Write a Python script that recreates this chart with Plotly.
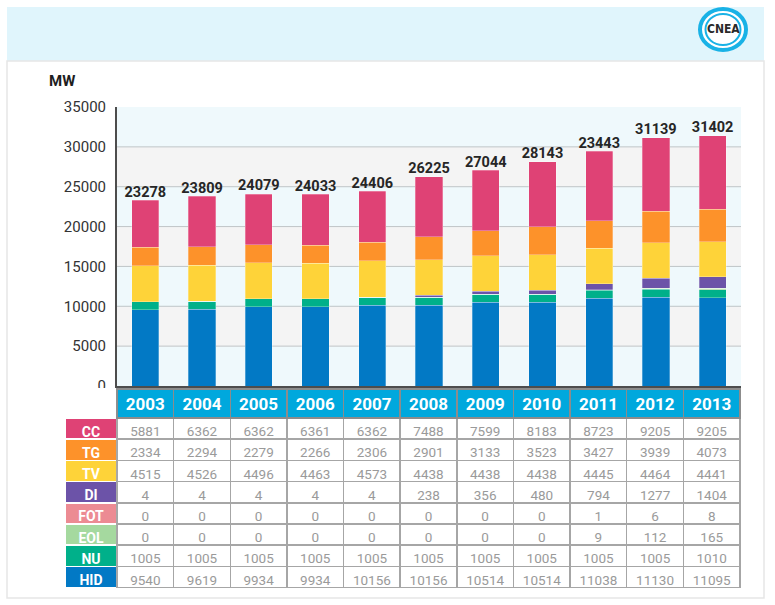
import plotly.graph_objects as go

# ---------------- data ----------------
years = ["2003", "2004", "2005", "2006", "2007", "2008", "2009", "2010", "2011", "2012", "2013"]
series_names = ["CC", "TG", "TV", "DI", "FOT", "EOL", "NU", "HID"]
CC = [5881, 6362, 6362, 6361, 6362, 7488, 7599, 8183, 8723, 9205, 9205]
TG = [2334, 2294, 2279, 2266, 2306, 2901, 3133, 3523, 3427, 3939, 4073]
TV = [4515, 4526, 4496, 4463, 4573, 4438, 4438, 4438, 4445, 4464, 4441]
DI = [4, 4, 4, 4, 4, 238, 356, 480, 794, 1277, 1404]
FOT = [0, 0, 0, 0, 0, 0, 0, 0, 1, 6, 8]
EOL = [0, 0, 0, 0, 0, 0, 0, 0, 9, 112, 165]
NU = [1005, 1005, 1005, 1005, 1005, 1005, 1005, 1005, 1005, 1005, 1010]
HID = [9540, 9619, 9934, 9934, 10156, 10156, 10514, 10514, 11038, 11130, 11095]
total_labels = ["23278", "23809", "24079", "24033", "24406", "26225", "27044", "28143", "23443", "31139", "31402"]
y_ticks = [0, 5000, 10000, 15000, 20000, 25000, 30000, 35000]

series = {"CC": CC, "TG": TG, "TV": TV, "DI": DI, "FOT": FOT, "EOL": EOL, "NU": NU, "HID": HID}
colors = {"CC": "#df4275", "TG": "#fd922a", "TV": "#fed339", "DI": "#6c53a8",
          "FOT": "#ec8b93", "EOL": "#a5d99f", "NU": "#00b08a", "HID": "#0279c5"}

W, H = 775, 605
def px(x): return x / W
def py(y): return 1 - y / H

FONT = "Roboto, 'DejaVu Sans', sans-serif"

fig = go.Figure()

# stacked bars, bottom to top
for name in ["HID", "NU", "EOL", "FOT", "DI", "TV", "TG", "CC"]:
    fig.add_trace(go.Bar(
        x=years, y=series[name], name=name,
        marker=dict(color=colors[name], line=dict(color="rgba(255,255,255,0.35)", width=0.8)),
        showlegend=False,
    ))

totals = [sum(series[n][i] for n in series_names) for i in range(len(years))]

# total labels above bars
fig.add_trace(go.Scatter(
    x=years, y=totals, mode="text", text=total_labels, textposition="top center",
    textfont=dict(family=FONT, size=14.5, color="#262626", weight="bold"),
    showlegend=False, hoverinfo="skip", cliponaxis=False,
))

# table
cols_values = [series_names] + [[series[n][i] for n in series_names] for i in range(len(years))]
fill_cells = [[colors[n] for n in series_names]] + [["white"] * 8 for _ in years]
font_cells = [["white"] * 8] + [["#9a9a9a"] * 8 for _ in years]

fig.add_trace(go.Table(
    domain=dict(x=[px(65), px(740.5)], y=[0, py(389)]),
    columnwidth=[52] + [56.6] * len(years),
    header=dict(
        values=[""] + years,
        fill=dict(color=["white"] + ["#00a8dd"] * len(years)),
        line=dict(color=["white"] + ["#8c8c8c"] * len(years), width=1.5),
        font=dict(family=FONT, size=17, color="white", weight="bold"),
        align="center", height=29,
    ),
    cells=dict(
        values=cols_values,
        fill=dict(color=fill_cells),
        line=dict(color=["white"] + ["#a6a6a6"] * len(years), width=1.5),
        font=dict(family=FONT, size=[14] + [13.5] * len(years), color=font_cells,
                  weight=["bold"] + ["normal"] * len(years)),
        align="center", height=21.2,
    ),
))

shapes = []
# header band
shapes.append(dict(type="rect", xref="paper", yref="paper", x0=px(7), x1=px(764), y0=py(61), y1=py(7),
                   fillcolor="#e0f5fc", line=dict(width=0), layer="below"))
# card
shapes.append(dict(type="rect", xref="paper", yref="paper", x0=px(7), x1=px(764), y0=py(598), y1=py(61),
                   fillcolor="rgba(0,0,0,0)", line=dict(color="#e6e6e6", width=1.5), layer="below"))
# alternating plot bands
for k in range(7):
    shapes.append(dict(type="rect", xref="paper", yref="y", x0=px(117), x1=px(741),
                       y0=y_ticks[k], y1=y_ticks[k + 1],
                       fillcolor="#eff9fc" if k % 2 == 0 else "#f4f4f4", line=dict(width=0), layer="below"))
# gridlines
for v in y_ticks[1:-1]:
    shapes.append(dict(type="line", xref="paper", yref="y", x0=px(117), x1=px(741), y0=v, y1=v,
                       line=dict(color="#bfc5c7", width=1), layer="below"))
# logo rings
cx, cy = 723, 29.5
shapes.append(dict(type="circle", xref="paper", yref="paper", x0=px(cx - 23), x1=px(cx + 23),
                   y0=py(cy + 20.5), y1=py(cy - 20.5), fillcolor="white", line=dict(color="#19b2e6", width=4)))
shapes.append(dict(type="circle", xref="paper", yref="paper", x0=px(cx - 17.5), x1=px(cx + 17.5),
                   y0=py(cy + 15.5), y1=py(cy - 15.5), fillcolor="white", line=dict(color="#19b2e6", width=2)))

annotations = []
annotations.append(dict(x=px(47), y=py(81), xref="paper", yref="paper", text="MW", showarrow=False,
                        xanchor="left", yanchor="middle",
                        font=dict(family=FONT, size=15, color="#1e1e1e", weight="bold")))
annotations.append(dict(x=px(cx), y=py(cy), xref="paper", yref="paper", text="CNEA", showarrow=False,
                        xanchor="center", yanchor="middle",
                        font=dict(family="'DejaVu Sans Condensed', 'Liberation Sans Narrow', Roboto, sans-serif",
                                  size=12, color="#2a2a2a", weight="bold")))

fig.update_layout(
    width=W, height=H,
    margin=dict(l=0, r=0, t=0, b=0, pad=0, autoexpand=False),
    paper_bgcolor="white", plot_bgcolor="rgba(0,0,0,0)",
    barmode="stack", bargap=0.52,
    shapes=shapes, annotations=annotations,
    xaxis=dict(type="category", categoryorder="array", categoryarray=years,
               range=[-0.5, len(years) - 0.5], autorange=False, automargin=False,
               domain=[px(117), px(741)], showticklabels=False, showgrid=False,
               zeroline=False, showline=True, linecolor="#4d4d4d", linewidth=2.5, fixedrange=True),
    yaxis=dict(domain=[py(386), py(107)], range=[0, 35000], autorange=False, automargin=False,
               tickvals=y_ticks, tickformat="d",
               showgrid=False, zeroline=False, showline=True, linecolor="#4d4d4d", linewidth=2,
               ticks="", ticklabelstandoff=6,
               tickfont=dict(family=FONT, size=15, color="#333333"), fixedrange=True),
    font=dict(family=FONT),
)

fig.write_html("out.html", config={"displayModeBar": False},
               post_script="document.body.style.margin='0';")
